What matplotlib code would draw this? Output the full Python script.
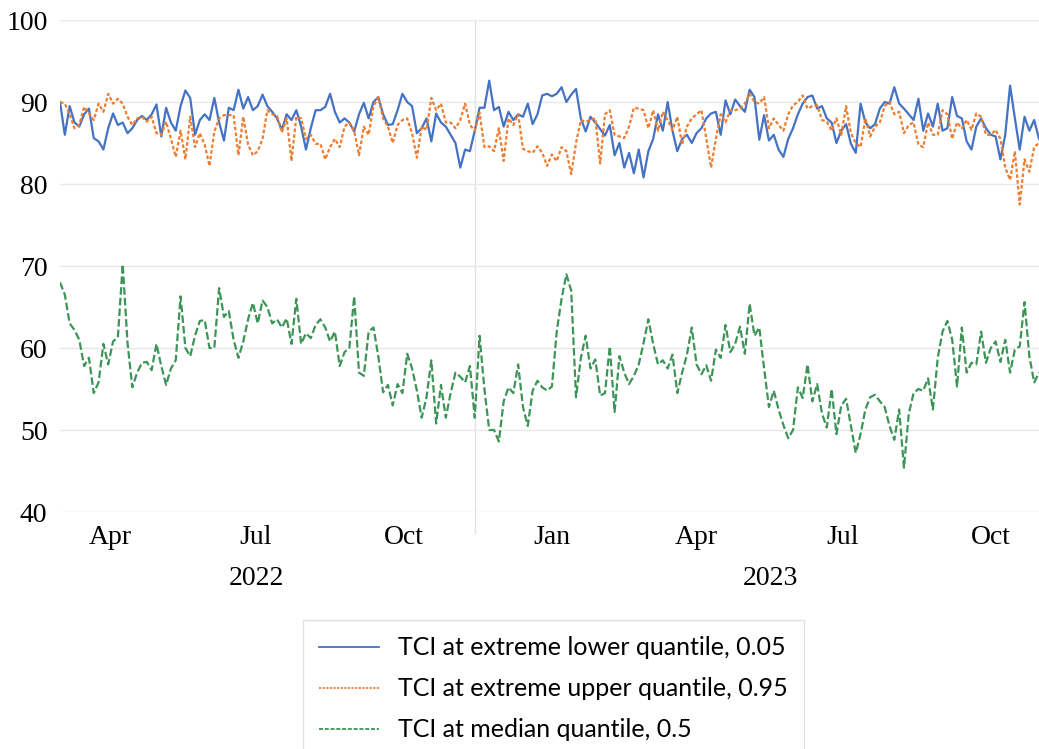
import numpy as np
import pandas as pd
import matplotlib
matplotlib.use("Agg")
import matplotlib.pyplot as plt
import matplotlib.dates as mdates
from matplotlib.lines import Line2D

# TCI series, sampled every 3 days from 2022-03-01 to 2023-10-31
dates = pd.date_range("2022-03-01", periods=204, freq="3D")

tci_lower = [
    90.0, 86.0, 89.5, 87.5, 87.0, 88.5, 89.2, 85.6, 85.2, 84.2, 86.8, 88.6, 87.2, 87.5, 86.2, 86.8, 87.8,
    88.3, 87.8, 88.5, 89.7, 85.8, 89.3, 87.5, 86.5, 89.5, 91.4, 90.5, 86.0, 87.8, 88.5, 87.8, 90.5, 87.5,
    85.3, 89.3, 89.0, 91.5, 89.2, 90.6, 89.0,
    89.5, 90.9, 89.5, 88.8, 88.0, 86.6, 88.5, 87.8, 89.0, 87.0, 84.2, 86.8, 89.0, 89.0, 89.4, 91.0, 88.8,
    87.5, 88.0, 87.5, 86.4, 88.5, 89.9, 88.0, 90.0, 90.6, 88.5, 87.2, 87.3, 89.0, 91.0, 90.0, 89.5, 86.2,
    86.8, 88.0, 85.2, 88.6, 87.5, 87.0,
    86.0, 85.0, 82.0, 84.2, 84.0, 86.5, 89.3, 89.3, 92.6, 89.0, 89.4, 87.0, 88.8, 87.8, 88.5, 88.2, 89.8,
    87.3, 88.5, 90.8, 91.0, 90.7, 91.0, 91.8, 90.0, 90.9, 91.6, 88.0, 86.4, 88.2, 87.5, 86.7, 85.9, 87.2,
    83.5, 85.0, 82.0, 83.8, 81.3, 84.2, 80.8,
    84.0, 85.5, 88.5, 86.5, 90.0, 86.5, 84.0, 85.5, 86.0, 85.0, 86.2, 86.8, 88.0, 88.6, 88.8, 86.0, 90.2,
    88.5, 90.3, 89.5, 88.8, 91.5, 90.6, 85.4, 88.4, 85.3, 86.0, 84.2, 83.3, 85.5, 86.8, 88.5, 89.8, 90.6,
    90.8, 89.2, 89.5, 88.0, 87.5, 85.0,
    86.5, 87.3, 84.9, 83.8, 89.8, 87.5, 86.8, 87.3, 89.2, 90.0, 89.8, 91.8, 89.8, 89.2, 88.5, 87.8, 90.4,
    86.5, 88.6, 87.0, 89.8, 86.5, 86.8, 90.6, 88.3, 88.0, 85.2, 84.2, 87.0, 88.0, 86.8, 86.0, 85.8, 83.0,
    86.0, 92.0, 88.0, 84.2, 88.2, 86.5, 87.8, 85.5,
]

tci_upper = [
    90.0, 89.8, 88.5, 86.8, 87.2, 89.4, 88.6, 87.8, 89.8, 88.8, 91.0, 89.8, 90.4, 89.8, 88.2, 87.2, 88.0,
    88.2, 87.6, 88.2, 86.2, 86.0, 87.6, 85.5, 83.3, 86.5, 83.0, 88.2, 84.5, 86.2, 84.8, 82.2, 86.4, 88.0,
    88.4, 88.4, 88.4, 83.5, 88.2, 84.8, 83.5,
    84.0, 85.5, 89.0, 88.5, 88.3, 86.3, 88.0, 82.8, 88.2, 88.0, 85.5, 86.0, 84.9, 84.9, 83.0, 84.5, 85.5,
    84.5, 87.0, 87.5, 86.5, 83.5, 87.0, 86.0, 89.5, 90.6, 88.0, 87.0, 85.0, 87.2, 87.8, 88.0, 86.2, 83.2,
    87.0, 86.6, 90.5, 89.0, 89.8, 87.5,
    87.5, 86.8, 87.8, 89.8, 87.2, 86.5, 88.7, 84.5, 84.6, 84.0, 86.8, 82.8, 88.0, 87.2, 88.5, 84.3, 84.0,
    83.8, 84.6, 83.8, 82.2, 83.6, 82.8, 84.5, 84.0, 81.2, 85.0, 87.8, 87.6, 87.8, 88.0, 82.5, 88.5, 89.0,
    86.0, 85.8, 85.6, 87.0, 89.3, 89.2, 89.0,
    86.8, 89.0, 86.5, 88.8, 87.8, 86.6, 88.2, 84.8, 87.0, 88.0, 88.5, 89.0, 85.6, 82.0, 85.5, 88.5, 87.5,
    89.0, 89.0, 89.2, 89.8, 91.0, 90.0, 89.8, 90.6, 86.8, 88.0, 87.2, 86.5, 88.5, 89.6, 90.0, 90.8, 89.2,
    89.5, 89.6, 87.8, 87.6, 86.5, 88.0,
    86.0, 89.5, 86.2, 85.0, 84.5, 88.0, 85.8, 87.0, 87.5, 89.5, 90.0, 88.5, 88.8, 86.2, 87.2, 87.5, 84.8,
    84.5, 87.5, 86.0, 86.0, 89.0, 88.5, 85.5, 87.5, 86.8, 87.8, 86.6, 88.6, 88.2, 86.0, 86.0, 86.6, 85.5,
    82.0, 80.5, 84.0, 77.5, 83.0, 81.5, 84.5, 85.0,
]

tci_median = [
    68.0, 66.5, 63.0, 62.2, 61.0, 57.8, 58.8, 54.5, 55.8, 60.5, 58.0, 60.8, 61.3, 70.2, 60.6, 55.2, 57.0,
    58.2, 58.3, 57.3, 60.5, 57.8, 55.5, 57.5, 58.5, 66.3, 60.0, 59.0, 61.5, 63.3, 63.4, 60.0, 60.0, 67.3,
    63.8, 64.5, 61.0, 58.8, 60.8, 63.5, 65.5,
    63.0, 65.8, 65.0, 63.0, 63.5, 62.5, 63.6, 60.5, 66.0, 60.5, 61.8, 61.2, 62.8, 63.5, 62.5, 60.8, 62.0,
    57.8, 59.5, 60.0, 66.3, 57.0, 56.6, 62.0, 62.5, 59.0, 54.6, 55.5, 53.0, 55.6, 54.5, 59.3, 57.5, 54.8,
    51.5, 54.0, 58.5, 50.8, 55.5, 51.5,
    54.5, 57.0, 56.5, 55.8, 57.8, 51.5, 61.5, 55.0, 50.0, 50.0, 48.6, 53.5, 55.2, 54.5, 58.0, 52.8, 50.5,
    54.8, 56.0, 55.2, 54.8, 55.3, 62.0, 66.0, 69.0, 67.0, 54.0, 58.8, 61.5, 57.5, 58.6, 54.2, 54.5, 60.2,
    52.2, 59.0, 57.0, 55.6, 56.6, 58.0, 60.6,
    63.5, 60.5, 58.0, 58.5, 57.5, 59.2, 54.5, 57.0, 59.2, 62.5, 58.0, 56.8, 57.9, 56.0, 59.8, 58.8, 62.8,
    59.5, 60.5, 62.6, 59.3, 65.4, 61.5, 62.5, 57.5, 52.8, 54.8, 52.5, 50.6, 49.0, 50.0, 55.2, 53.9, 58.0,
    53.5, 55.6, 52.0, 50.3, 55.0, 49.5,
    53.0, 53.8, 50.5, 47.2, 49.5, 52.5, 54.0, 54.3, 53.5, 52.8, 50.5, 48.8, 52.5, 45.4, 52.0, 54.5, 55.0,
    54.8, 56.3, 52.5, 58.8, 62.0, 63.3, 61.0, 55.3, 62.5, 57.0, 58.2, 58.0, 62.0, 58.2, 60.0, 60.8, 58.3,
    61.0, 57.0, 59.8, 60.2, 65.6, 59.0, 55.8, 57.0,
]

labels = ["TCI at extreme lower quantile, 0.05",
          "TCI at extreme upper quantile, 0.95",
          "TCI at median quantile, 0.5"]
colors = ["#4472C4", "#ED7D31", "#3D9457"]

serif = "Liberation Serif"

fig = plt.figure(figsize=(10.39, 7.49), dpi=100)
ax = fig.add_axes([60 / 1039, 1 - 512 / 749, 979 / 1039, 492 / 749])

ax.plot(dates, tci_lower, color=colors[0], lw=1.6, solid_joinstyle="round")
ax.plot(dates, tci_upper, color=colors[1], lw=1.6, dashes=(1.6, 1.0))
ax.plot(dates, tci_median, color=colors[2], lw=1.6, dashes=(3.4, 1.4))

ax.set_ylim(40, 100)
ax.set_yticks(range(40, 101, 10))
ax.set_xlim(pd.Timestamp("2022-03-01"), pd.Timestamp("2023-10-31"))
ax.grid(axis="y", color="#e8e8e8", lw=1)
ax.set_axisbelow(True)
for s in ax.spines.values():
    s.set_visible(False)

# year divider line on the date axis
ax.axvline(pd.Timestamp("2022-11-14"), ymin=-0.043, ymax=1, color="#e3e3e3", lw=1, clip_on=False, zorder=0)

ax.xaxis.set_major_locator(mdates.MonthLocator(bymonth=[1, 4, 7, 10]))
ax.xaxis.set_major_formatter(mdates.DateFormatter("%b"))
ax.tick_params(axis="x", length=0, pad=9, labelsize=20)
ax.tick_params(axis="y", length=0, pad=9, labelsize=20)
for lab in ax.get_xticklabels() + ax.get_yticklabels():
    lab.set_fontfamily(serif)

for yr, d in [("2022", "2022-07-01"), ("2023", "2023-05-17")]:
    ax.text(pd.Timestamp(d), -0.135, yr, transform=ax.get_xaxis_transform(),
            ha="center", va="center", fontsize=20, family=serif)

handles = [
    Line2D([], [], color=colors[0], lw=1.3),
    Line2D([], [], color=colors[1], lw=1.3, dashes=(1.2, 0.8)),
    Line2D([], [], color=colors[2], lw=1.3, dashes=(2.2, 1.0)),
]
leg = fig.legend(handles, labels, loc="upper center", bbox_to_anchor=(553 / 1039, 1 - 620 / 749),
                 prop={"family": "Lato", "size": 18}, frameon=True, fancybox=False,
                 edgecolor="#d9d9d9", handlelength=2.4, handletextpad=0.75, labelspacing=0.72,
                 borderpad=0.65, borderaxespad=0)
leg.get_frame().set_linewidth(1.0)

fig.savefig("out.png", dpi=100)
